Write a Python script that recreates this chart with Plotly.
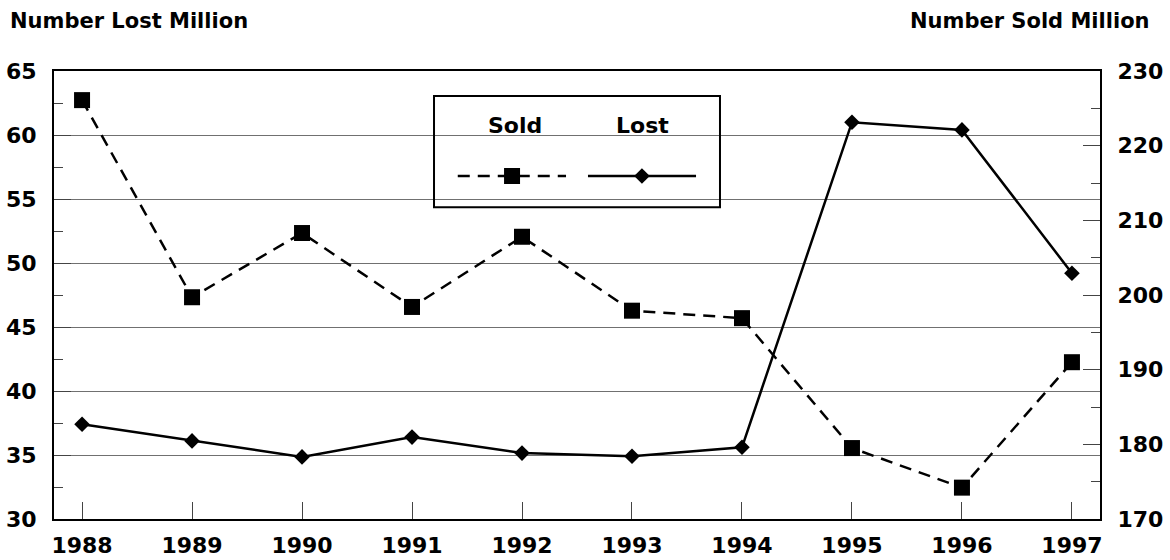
import plotly.graph_objects as go

years = ["1988", "1989", "1990", "1991", "1992", "1993", "1994", "1995", "1996", "1997"]
sold = [226.1, 199.7, 208.3, 198.4, 207.8, 197.9, 196.9, 179.5, 174.2, 191.0]
lost = [37.4, 36.1, 34.85, 36.4, 35.15, 34.9, 35.6, 61.0, 60.4, 49.2]
legend_names = ["Sold", "Lost"]

FONT = "DejaVu Sans, Liberation Sans, Arial, sans-serif"
fsize = 22
tfont = dict(family=FONT, size=fsize, color="black", weight="bold")

fig = go.Figure()
fig.add_trace(go.Scatter(
    x=years, y=sold, name="Sold", yaxis="y2", mode="lines+markers",
    line=dict(color="black", width=2.5, dash="12px,8px"),
    marker=dict(symbol="square", size=16, color="black"),
    showlegend=False,
))
fig.add_trace(go.Scatter(
    x=years, y=lost, name="Lost", yaxis="y", mode="lines+markers",
    line=dict(color="black", width=2.5),
    marker=dict(symbol="diamond", size=12, color="black"),
    showlegend=False,
))

# custom legend samples (text above symbol)
fig.add_trace(go.Scatter(
    x=[0.386, 0.4895], y=[0.7656, 0.7656], xaxis="x2", yaxis="y3", mode="lines",
    line=dict(color="black", width=2.5, dash="12px,8px"), showlegend=False, hoverinfo="skip"))
fig.add_trace(go.Scatter(
    x=[0.4379], y=[0.7656], xaxis="x2", yaxis="y3", mode="markers",
    marker=dict(symbol="square", size=16, color="black"), showlegend=False, hoverinfo="skip"))
fig.add_trace(go.Scatter(
    x=[0.5105, 0.6138], y=[0.7656, 0.7656], xaxis="x2", yaxis="y3",
    mode="lines", line=dict(color="black", width=2.5), showlegend=False, hoverinfo="skip"))
fig.add_trace(go.Scatter(
    x=[0.5621], y=[0.7656], xaxis="x2", yaxis="y3", mode="markers",
    marker=dict(symbol="diamond", size=12, color="black"), showlegend=False, hoverinfo="skip"))

fig.update_layout(
    width=1170, height=560,
    margin=dict(l=54, r=70, t=71, b=41),
    paper_bgcolor="white", plot_bgcolor="white",
    font=tfont,
    xaxis=dict(
        type="category", range=[-0.255, 9.255], automargin=False,
        showline=True, linecolor="black", linewidth=2, mirror=True,
        ticks="inside", ticklen=17, tickcolor="#444", tickwidth=1,
        showgrid=False, tickfont=tfont, ticklabelstandoff=6,
    ),
    yaxis=dict(
        range=[30, 65], dtick=5, tick0=30, automargin=False,
        showline=True, linecolor="black", linewidth=2,
        ticks="inside", ticklen=17, tickcolor="#444", tickwidth=1,
        showgrid=True, gridcolor="#707070", gridwidth=1,
        minor=dict(dtick=2.5, ticks="inside", ticklen=9, tickcolor="#444", showgrid=False),
        zeroline=False, tickfont=tfont, ticklabelstandoff=11,
    ),
    yaxis2=dict(
        range=[170, 230], dtick=10, tick0=170, overlaying="y", side="right", automargin=False,
        showline=True, linecolor="black", linewidth=2,
        ticks="inside", ticklen=17, tickcolor="#444", tickwidth=1,
        showgrid=False, zeroline=False,
        minor=dict(dtick=5, ticks="inside", ticklen=9, tickcolor="#444", showgrid=False),
        tickfont=tfont, ticklabelstandoff=11,
    ),
    xaxis2=dict(range=[0, 1], overlaying="x", visible=False, anchor="y3", automargin=False),
    yaxis3=dict(range=[0, 1], overlaying="y", visible=False, anchor="x2", automargin=False),
    shapes=[dict(type="rect", xref="paper", yref="paper", x0=0.3633, x1=0.6367,
                 y0=0.696, y1=0.944, line=dict(color="black", width=2))],
    annotations=[
        dict(text="Number Lost Million", xref="paper", yref="paper", x=-0.044, y=1.111,
             xanchor="left", yanchor="middle", showarrow=False, font=dict(tfont, size=21)),
        dict(text="Number Sold Million", xref="paper", yref="paper", x=1.0497, y=1.111,
             xanchor="right", yanchor="middle", showarrow=False, font=dict(tfont, size=21)),
        dict(text=legend_names[0], xref="paper", yref="paper", x=0.4407, y=0.878,
             xanchor="center", yanchor="middle", showarrow=False, font=tfont),
        dict(text=legend_names[1], xref="paper", yref="paper", x=0.563, y=0.878,
             xanchor="center", yanchor="middle", showarrow=False, font=tfont),
    ],
)

fig.write_html("out.html", config={"displayModeBar": False},
               post_script="document.body.style.margin='0px';document.body.style.padding='0px';")
